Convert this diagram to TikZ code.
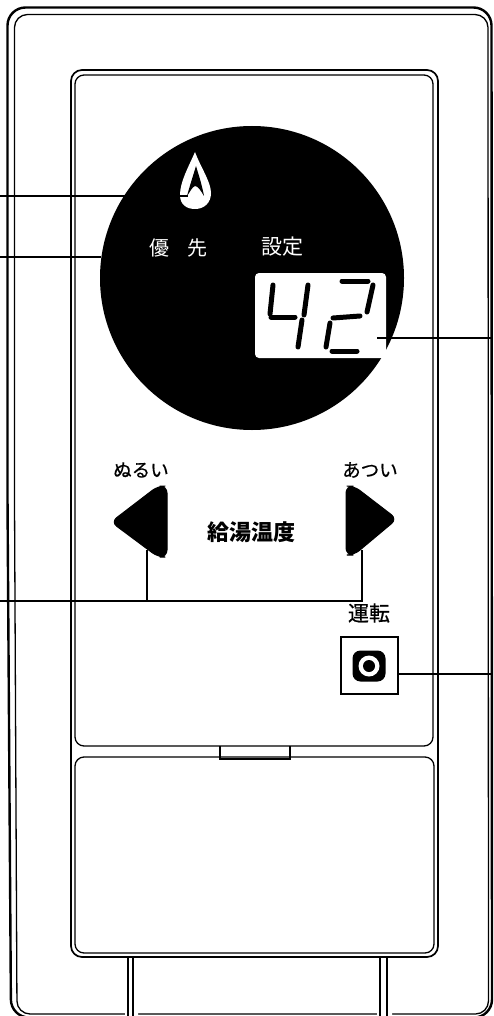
\documentclass[tikz,border=0pt]{standalone}
\usepackage{fontspec}
\newfontfamily\cjk{Noto Sans CJK JP}
\newfontfamily\cjkm[FakeBold=0.6]{Noto Sans CJK JP}
\tikzset{
 frame/.style={draw=black,line width=1.7pt,fill=none},
 thin frame/.style={draw=black,line width=1.3pt,fill=none},
 leader/.style={draw=black,line width=1.2pt},
 blk/.style={fill=black,draw=black,line width=1pt,rounded corners=7pt},
 lab/.style={font=\cjkm\fontsize{18.5}{18.5}\selectfont,inner sep=0pt,text=black},
 wlab/.style={font=\cjk\fontsize{20}{20}\selectfont,inner sep=0pt,text=white},
 seg/.style={draw=black,line width=5pt,line cap=round},
}
\begin{document}
\begin{tikzpicture}[x=1pt,y=-1pt]
\useasboundingbox (0,0) rectangle (493,1016);
% outer case
\draw[line width=2.4pt,rounded corners=18pt] (11,1017.5) -- (7.5,500) -- (7.5,7.5) -- (491.5,7.5) -- (492,1017.5) -- cycle;
\draw[thin frame,rounded corners=13pt] (17,1014) -- (14.5,500) -- (14.5,14.5) -- (488,14.5) -- (488.5,1014) -- cycle;
% panel
\draw[frame,rounded corners=11pt] (71,70) rectangle (438,957);
\draw[thin frame,rounded corners=9pt] (75,75) rectangle (433,746);
\draw[thin frame,rounded corners=9pt] (75,757) rectangle (434,953);
% hinge tab
\draw[thin frame] (220,746) -- (220,759) -- (290,759) -- (290,746);
% legs
\fill[white] (125,1009) rectangle (138,1016) (377,1009) rectangle (392,1016);
\draw[thin frame] (128,957) -- (128,1016) (133,957) -- (133,1016) (380,957) -- (380,1016) (387,957) -- (387,1016);
% display disc
\node[circle,fill=black,minimum size=304pt,inner sep=0pt] (disc) at (252,278) {};
% flame
\fill[white] (195,152) .. controls (188,168) and (180,182) .. (180,195) .. controls (180,205) and (187,209) .. (195,209) .. controls (204,209) and (211,203) .. (211,193) .. controls (211,182) and (201,168) .. (195,152) -- cycle;
\fill[black] (196,166) .. controls (193,176) and (190,185) .. (187,196) .. controls (190,192) and (192,187) .. (195,186) .. controls (198,186) and (201,191) .. (204,196) .. controls (202,185) and (199,176) .. (196,166) -- cycle;
% disc labels
\node[wlab] (yu) at (159,248) {優};
\node[wlab] (sen) at (197,248) {先};
\node[wlab,font=\cjk\fontsize{21}{21}\selectfont] (sette) at (282,247) {設定};
% LCD
\node[fill=white,rounded corners=4pt,minimum width=131pt,minimum height=85pt,inner sep=0pt] (lcd) at (320.5,315.5) {};
% digit 4
\draw[seg] (273,285) -- (270,314);
\draw[seg] (271,317) -- (295,317);
\draw[seg] (308,285) -- (304,315);
\draw[seg] (302,320) -- (298,347);
% digit 2
\draw[seg] (342,281) -- (368,281);
\draw[seg] (373,285) -- (367,312);
\draw[seg] (333,318) -- (360,316);
\draw[seg] (330,323) -- (326,347);
\draw[seg] (332,351) -- (357,351);
% buttons
\node[lab] (nurui) at (141,470) {ぬるい};
\node[lab] (atsui) at (370,470) {あつい};
\node[lab,font=\cjk\bfseries\fontsize{22}{22}\selectfont] (kyuto) at (251,532) {給湯温度};
\node[lab,font=\cjkm\fontsize{21}{21}\selectfont] (unten) at (369,613) {運転};
\draw[blk,line join=round] (167,520) -- (167,557) -- (158,557) -- (111,522) -- (158,486) -- (167,486) -- cycle;
\draw[blk,line join=round] (346,520) -- (346,486) -- (354,486) -- (397,519) -- (354,555) -- (346,555) -- cycle;
\coordinate (la) at (147,550);
\coordinate (ra) at (362,550);
% stop button
\node[draw=black,line width=1.6pt,minimum size=57pt,inner sep=0pt] (stop) at (369.5,665.5) {};
\node[fill=black,rounded corners=8pt,minimum width=33pt,minimum height=31pt,inner sep=0pt] (stopo) at (369,666) {};
\node[circle,fill=white,minimum size=21pt,inner sep=0pt] (stopw) at (369,666) {};
\node[circle,fill=black,minimum size=12pt,inner sep=0pt] (stopb) at (369,666) {};
% leaders
\coordinate (l1) at (0,196);
\coordinate (l2) at (0,257);
\coordinate (l3) at (0,601);
\coordinate (r1) at (493,338);
\coordinate (r2) at (493,674);
\coordinate (l1e) at (188,196);
\coordinate (l2e) at (101,257);
\coordinate (r1e) at (377,338);
\coordinate (tee) at (147,601);
\coordinate (corner) at (362,601);
\draw[leader] (l1) -- (l1e);
\draw[leader] (l2) -- (l2e);
\draw[leader] (r1e) -- (r1);
\draw[leader] (stop.east |- r2) -- (r2);
\draw[leader] (l3) -- (corner) -- (ra);
\draw[leader] (tee) -- (la);
\end{tikzpicture}
\end{document}
